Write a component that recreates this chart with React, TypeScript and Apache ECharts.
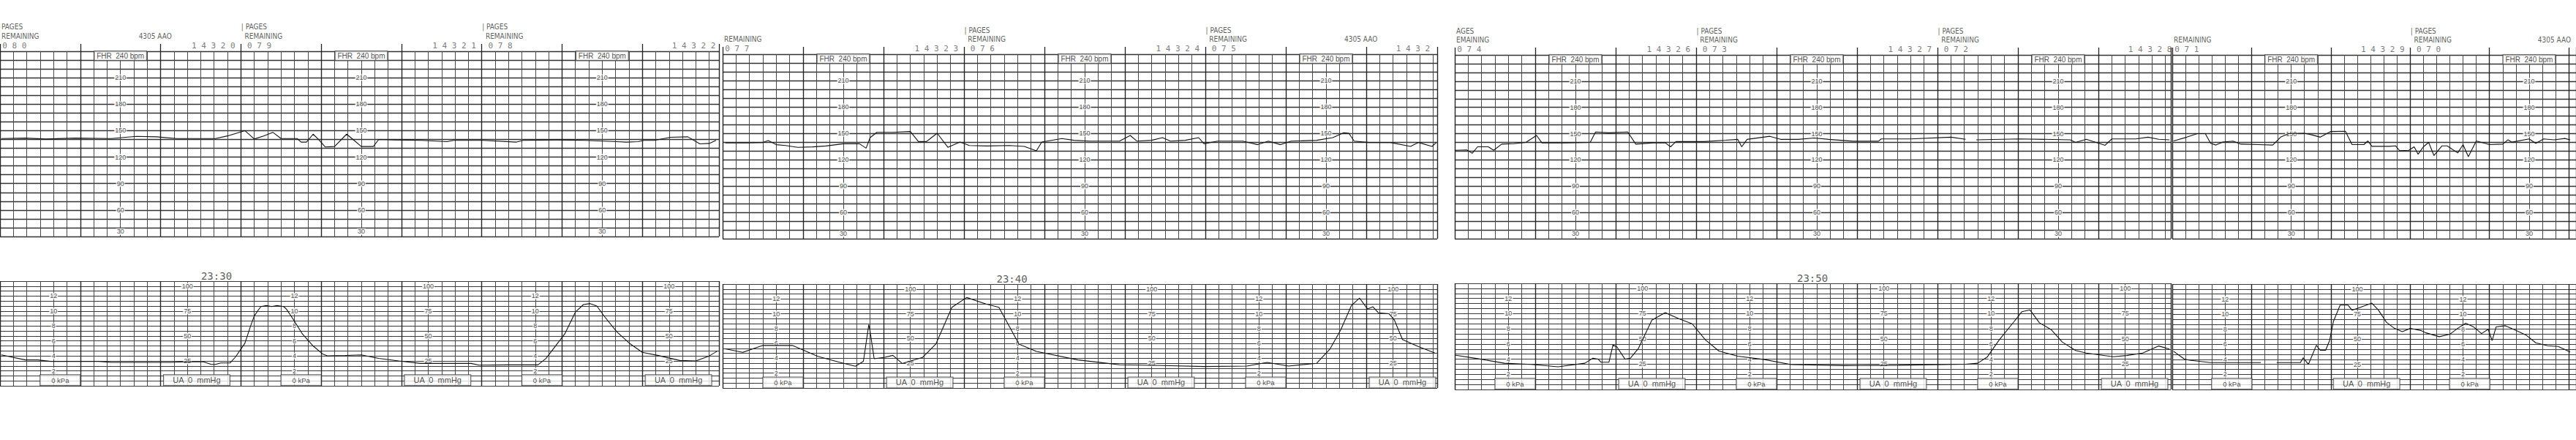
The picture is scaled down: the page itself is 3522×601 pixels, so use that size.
import React, { useEffect, useRef } from "react";
import * as echarts from "echarts";

// ---------------- data (read from the scanned CTG strips) ----------------
const PAGE_NUMBERS = ["080", "079", "078", "077", "076", "075", "074", "073", "072", "071", "070"];
const SERIAL_LABELS = ["", "14320", "14321", "14322", "14323", "14324", "1432", "14326", "14327", "14328", "14329"];
const PAGES_WORDS = ["PAGES", "| PAGES", "| PAGES", "", "| PAGES", "| PAGES", "AGES", "| PAGES", "| PAGES", "", "| PAGES"];
const REMAINING_WORDS = ["REMAINING", "REMAINING", "REMAINING", "REMAINING", "REMAINING", "REMAINING", "EMAINING", "REMAINING", "REMAINING", "REMAINING", "REMAINING"];
const MONITOR_ID = "4305 AAO";
const MONITOR_ID_PAGES = [0, 5, 10];

const FHR_SCALE_LABELS = [210, 180, 150, 120, 90, 60];
const FHR_BOTTOM_LABEL = "30";
const FHR_BOX_LABEL = "FHR  240 bpm";
const UA_SCALE_LABELS = [100, 75, 50, 25];
const UA_BOX_LABEL = "UA  0  mmHg";
const KPA_SCALE_LABELS = [12, 10, 8, 6, 4, 2];
const KPA_BOX_LABEL = "0 kPa";

const TIME_LABELS = ["23:30", "23:40", "23:50"];
const TIME_LABEL_STRIPS = [0, 1, 2];
const TIME_LABEL_SECONDS = [150, 204, 255];

// FHR (bpm) per strip: [seconds from strip start, bpm]
const FHR_STRIP_1 = [[1,141],[19,141.5],[34,140.5],[56,141.5],[83,141],[102,143.5],[117,143],[132,141],[161,141],[170,144],[183,150],[190,140.5],[197,144],[204,148],[210,141],[222,141],[225,137],[229,137],[234,146],[238,140],[243,131.5],[250,132],[259,146],[263,141],[270,132],[279,132],[283,140],[296,139.5],[315,139],[334,137.5],[339,139],[361,139],[386,137],[391,139],[416,139.5],[437,139],[461,137.5],[468,137],[477,137.5],[481,139],[489,139],[501,142.5],[514,143],[523,135],[530,135.5],[535,139]];
const FHR_STRIP_2 = [[2,139],[17,139],[30,139.5],[34,141.7],[40,137],[47,136],[56,134],[67,134.5],[77,135.5],[90,138],[102,138],[107,133],[110,145],[115,151],[127,151],[140,152],[146,140.5],[152,140.5],[160,150],[168,134],[177,140],[184,136],[197,135.5],[214,136],[225,135],[234,130],[238,140],[253,144],[262,142],[274,141],[296,141],[304,147.5],[309,141],[320,142],[328,145],[334,141],[345,142],[355,145],[359,138],[369,141],[388,141],[399,137],[407,141],[416,137],[424,141],[443,142],[455,145],[463,150.5],[467,150],[471,141],[482,139.5],[498,139.5],[513,135],[519,139.5],[529,135],[532,139]];
const FHR_STRIP_3 = [[0,131],[9,131.5],[13,127.6],[17,135],[25,135],[29,131],[35,138],[44,138.5],[53,140],[61,148],[65,139.5],[82,139.5],[101,140],[105,152],[115,151],[129,152],[135,138],[148,139.5],[157,139.5],[161,135],[165,141],[186,141],[202,142.5],[211,143.5],[214,135],[218,143.5],[235,147],[243,143.5],[256,143.5],[268,145],[279,143.5],[297,141.4],[316,141.4],[318,144],[340,144],[370,146],[381,143.6],[385,"-"],[389,143],[421,144],[459,143],[463,140],[471,143.6],[485,136.7],[490,144],[508,144],[517,146],[525,143.6],[533,143]];
const FHR_STRIP_4 = [[1,141.7],[11,146],[19,150],[25,150],[29,139],[33,137],[38,140.3],[46,141.5],[52,138],[65,137.5],[76,137],[82,146],[88,150],[100,150.5],[106,148.5],[112,146],[120,152.5],[131,152.8],[136,137.5],[145,137.5],[148,141.7],[151,135.5],[164,135.5],[169,136],[172,130.6],[179,131],[183,135],[186,126.5],[190,135],[194,140],[198,125],[204,136],[208,136],[216,128],[220,137.5],[224,123.7],[230,141.7],[240,137.5],[250,138],[254,143],[257,140.3],[270,144],[275,139],[281,144],[289,143],[297,144.5],[301,143]];

// UA (mmHg) per strip: [seconds from strip start, mmHg]
const UA_STRIP_1 = [[1,31],[19,26],[28,26],[38,24.5],[74,24.5],[83,23.5],[128,23.5],[138,24],[152,24],[158,21.5],[161,21.5],[165,23],[172,23],[176,29],[183,42.7],[187,59],[190,70],[193,76],[195,79.5],[199,80.5],[203,79.5],[207,80.5],[212,79.5],[214,77],[219,67],[226,52],[234,40],[241,32],[245,30],[258,30.5],[270,31],[283,27.5],[298,25],[314,22.5],[352,22.5],[358,20.7],[380,21],[402,21],[408,27.4],[415,39.7],[422,52],[430,74],[436,81.5],[441,82.5],[446,80],[452,69],[461,54],[471,42],[480,33.6],[492,30.4],[508,25.4],[520,25],[530,30],[536,34.8]];
const UA_STRIP_2 = [[2,39.5],[15,36],[30,43],[52,43],[58,39.5],[71,32],[87,26],[99,22],[105,27],[109,64],[110,57],[113,29.6],[121,31],[127,33],[134,24.7],[143,28.4],[149,30.8],[159,44.4],[171,81.5],[182,91.4],[196,85],[206,81.5],[212,66.7],[221,44.4],[234,37],[265,28.4],[296,23.5],[328,22.7],[359,21.7],[391,22.2],[406,25.9],[422,22.2],[443,25],[453,39.5],[461,58.8],[469,83.5],[475,90.8],[481,79.8],[485,82],[489,76],[497,75],[501,68.6],[507,49],[519,41.7],[531,35.5]];
const UA_STRIP_3 = [[0,34],[17,30.5],[37,26],[57,24.8],[77,22.5],[97,26],[103,31],[107,30],[109,27],[115,27],[118,44],[121,42],[127,30],[131,31],[137,40.7],[147,68.6],[157,76],[167,70],[177,65],[187,49],[197,38],[211,33],[231,29.6],[251,24.6],[291,23.6],[331,24],[381,25],[390,26],[397,32],[406,49],[417,67],[423,77],[429,78.7],[436,66],[445,59],[453,47],[463,38.6],[471,36],[491,32.4],[501,33.6],[513,36],[525,43],[533,40]];
const UA_STRIP_4 = [[1,38],[9,30.4],[13,29.2],[29,26.8],[67,26.8],[72,"-"],[79,26.8],[97,26.8],[99,31.6],[103,25],[109,44],[112,39],[116,39],[119,48.7],[122,68],[127,84],[133,84],[136,79],[142,81.7],[151,86],[156,79],[162,67],[168,61],[174,57.6],[180,60.8],[188,58.8],[192,56.4],[202,52.6],[210,55],[216,61],[222,66],[228,62.3],[234,55.7],[239,60],[242,48.7],[245,62.3],[252,63.5],[260,58.8],[268,53.9],[275,46.5],[284,43.6],[292,42.8],[301,37.3]];

const FHR_STRIPS = [FHR_STRIP_1, FHR_STRIP_2, FHR_STRIP_3, FHR_STRIP_4];
const UA_STRIPS = [UA_STRIP_1, UA_STRIP_2, UA_STRIP_3, UA_STRIP_4];

// ---------------- layout & style ----------------
const W = 3522;
const H = 601;
const PX_PER_SEC = 330 / 180;
const PAGE_SECONDS = 180;
const PAGES_PER_STRIP = 3;
const KPA_TO_MMHG = 7.5;
const STRIP_X = [-2, 988, 1989, 2970];
const STRIP_W = [985, 977, 979, 560];
const FHR_Y = [[70, 323], [74, 326], [75, 326], [75, 326]];
const UA_Y = [[384, 527], [388, 530], [387, 532], [388, 532]];

const FONT = "Liberation Sans, Arial, Helvetica, sans-serif";
const NARROW = "Liberation Sans Narrow, DejaVu Sans Condensed, Liberation Sans, sans-serif";
const MONO = "DejaVu Sans Mono, Liberation Mono, monospace";

const numStyle = { color: "#222", fontSize: 9, fontFamily: FONT, backgroundColor: "#fff", padding: [0, 1], lineHeight: 9 };
const boxStyle = { color: "#222", fontFamily: FONT, backgroundColor: "#fff", borderColor: "#333", borderWidth: 1 };
const headStyle = { color: "#333", fontSize: 10, fontFamily: NARROW };
const monoStyle = { color: "#555", fontSize: 11, fontFamily: MONO };
const timeStyle = { color: "#333", fontSize: 14, fontFamily: MONO };

function spaced(d: string) {
  return d.split("").join(" ");
}

function txt(t: number, v: number, text: string, position: string, style: any) {
  return {
    value: [t, v],
    label: { show: true, formatter: text, position, distance: 0, textBorderWidth: 0, ...style },
  };
}

function labelSeries(gridIndex: number, data: any[]) {
  return {
    type: "scatter",
    xAxisIndex: gridIndex * 2,
    yAxisIndex: gridIndex,
    symbol: "circle",
    symbolSize: 1,
    itemStyle: { color: "rgba(0,0,0,0)" },
    silent: true,
    clip: false,
    z: 3,
    data,
  };
}

function traceSeries(gridIndex: number, data: any[]) {
  return {
    type: "line",
    xAxisIndex: gridIndex * 2,
    yAxisIndex: gridIndex,
    data,
    symbol: "none",
    showSymbol: false,
    silent: true,
    clip: true,
    z: 5,
    lineStyle: { color: "#141414", width: 1.1 },
  };
}

function buildOption() {
  const grid: any[] = [];
  const xAxis: any[] = [];
  const yAxis: any[] = [];
  const series: any[] = [];

  for (let s = 0; s < 4; s++) {
    const secs = STRIP_W[s] / PX_PER_SEC;
    const visibleSecs = Math.min(secs, (W - STRIP_X[s]) / PX_PER_SEC);
    const gF = 2 * s;
    const gU = 2 * s + 1;
    grid.push({ left: STRIP_X[s], top: FHR_Y[s][0], width: STRIP_W[s], height: FHR_Y[s][1] - FHR_Y[s][0] });
    grid.push({ left: STRIP_X[s], top: UA_Y[s][0], width: STRIP_W[s], height: UA_Y[s][1] - UA_Y[s][0] });

    [gF, gU].forEach((g) => {
      xAxis.push({
        type: "value", gridIndex: g, min: 0, max: secs, interval: 10, position: "bottom",
        axisLine: { show: false }, axisTick: { show: false }, axisLabel: { show: false },
        splitLine: { show: true, lineStyle: { color: "#4a4a4a", width: 1 } },
      });
      xAxis.push({
        type: "value", gridIndex: g, min: 0, max: secs, interval: 60, position: "top",
        axisLine: { show: false },
        axisTick: { show: g === gF, length: 10, inside: false, lineStyle: { color: "#222", width: 1.3 } },
        axisLabel: { show: false },
        splitLine: { show: true, lineStyle: { color: "#262626", width: 1.4 } },
      });
    });
    yAxis.push({
      type: "value", gridIndex: gF, min: 30, max: 240, interval: 10,
      axisLine: { show: false }, axisTick: { show: false }, axisLabel: { show: false },
      splitLine: { show: true, lineStyle: { color: "#333", width: 1.3 } },
    });
    yAxis.push({
      type: "value", gridIndex: gU, min: 0, max: 105, interval: 5,
      axisLine: { show: false }, axisTick: { show: false }, axisLabel: { show: false },
      splitLine: { show: true, lineStyle: { color: "#3a3a3a", width: 1.2 } },
    });

    const fhrItems: any[] = [];
    const uaItems: any[] = [];
    for (let k = PAGES_PER_STRIP * s; k < PAGES_PER_STRIP * (s + 1) && k < PAGE_NUMBERS.length; k++) {
      const p0 = (k - PAGES_PER_STRIP * s) * PAGE_SECONDS;
      const first = k % PAGES_PER_STRIP === 0;

      // header
      if (PAGES_WORDS[k]) fhrItems.push(txt(first ? 0.8 : p0, 267.4, PAGES_WORDS[k], "right", headStyle));
      fhrItems.push(txt(first ? 0.8 : p0 + 2.6, 257.4, REMAINING_WORDS[k], "right", headStyle));
      fhrItems.push(txt(first ? 1.5 : p0 + 4.5, 246.5, spaced(PAGE_NUMBERS[k]), "right", monoStyle));
      if (!first && SERIAL_LABELS[k]) fhrItems.push(txt(p0 - 4, 246.5, spaced(SERIAL_LABELS[k]), "left", monoStyle));
      if (MONITOR_ID_PAGES.indexOf(k) >= 0) {
        fhrItems.push(txt(Math.min(p0 + 116, visibleSecs - 12), 256.8, MONITOR_ID, "inside", headStyle));
      }

      // FHR column
      const fCol = p0 + 90;
      if (fCol < secs - 2) {
        FHR_SCALE_LABELS.forEach((v) => fhrItems.push(txt(fCol, v, String(v), "inside", numStyle)));
        fhrItems.push(txt(fCol, 35.5, FHR_BOTTOM_LABEL, "inside", numStyle));
        fhrItems.push(txt(fCol, 234.8, FHR_BOX_LABEL, "inside", { ...boxStyle, fontSize: 10, lineHeight: 10, padding: [1, 3] }));
      }
      // kPa column
      const kCol = p0 + 40;
      if (kCol < secs - 2) {
        KPA_SCALE_LABELS.forEach((v) => uaItems.push(txt(kCol, v * KPA_TO_MMHG, String(v), "inside", numStyle)));
        uaItems.push(txt(p0 + 45, 5.6, KPA_BOX_LABEL, "inside", { ...boxStyle, fontSize: 9.5, lineHeight: 10, padding: [2, 15] }));
      }
      // UA column
      const uCol = p0 + 140;
      if (uCol < secs - 2) {
        UA_SCALE_LABELS.forEach((v) => uaItems.push(txt(uCol, v, String(v), "inside", numStyle)));
        uaItems.push(txt(p0 + 147, 5.6, UA_BOX_LABEL, "inside", { ...boxStyle, fontSize: 11, lineHeight: 11, padding: [1.5, 12] }));
      }
    }
    // serial number of the next strip's first page, printed at the end of this strip
    const nextFirst = PAGES_PER_STRIP * (s + 1);
    if (nextFirst < PAGE_NUMBERS.length && SERIAL_LABELS[nextFirst]) {
      const lab = SERIAL_LABELS[nextFirst];
      fhrItems.push(txt(PAGES_PER_STRIP * PAGE_SECONDS - 5, 246.5, spaced(lab) + (lab.length < 5 ? "  " : ""), "left", monoStyle));
    }
    // time stamps
    TIME_LABELS.forEach((lab, i) => {
      if (TIME_LABEL_STRIPS[i] === s) uaItems.push(txt(TIME_LABEL_SECONDS[i], 110, lab, "right", timeStyle));
    });

    series.push(labelSeries(gF, fhrItems));
    series.push(labelSeries(gU, uaItems));
    series.push(traceSeries(gF, FHR_STRIPS[s]));
    series.push(traceSeries(gU, UA_STRIPS[s]));
  }

  return {
    animation: false,
    backgroundColor: "#ffffff",
    grid,
    xAxis,
    yAxis,
    series,
  };
}

export default function App() {
  const ref = useRef<HTMLDivElement>(null);
  useEffect(() => {
    if (!ref.current) return;
    const chart = echarts.init(ref.current, null, { renderer: "svg", width: W, height: H });
    chart.setOption(buildOption());
    return () => chart.dispose();
  }, []);
  return (
    <div
      ref={ref}
      style={{ position: "fixed", left: 0, top: 0, width: W, height: H, background: "#fff" }}
    />
  );
}
